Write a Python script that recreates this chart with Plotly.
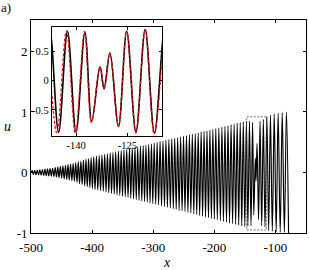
import plotly.graph_objects as go

# ---------------- data ----------------
# black curve: crest positions / heights
peak_x = [-498.2, -494.0, -489.8, -485.6, -481.4, -477.2, -473.0, -468.8, -464.6, -460.4,
          -456.2, -452.0, -447.8, -443.6, -439.4, -435.2, -431.0, -426.8, -422.6, -418.4,
          -414.2, -410.0, -405.8, -401.6,
          -397.4, -392.9, -388.4, -383.9, -379.4, -374.9, -370.4, -365.9, -361.4, -356.9,
          -352.4, -347.9, -343.4, -338.9, -334.4, -329.9, -325.4, -320.9, -316.4, -311.9,
          -307.4, -302.9,
          -298.4, -293.6, -288.8, -284.0, -279.2, -274.4, -269.6, -264.8, -260.0, -255.2,
          -250.4, -245.6, -240.8, -236.0, -231.2, -226.4, -221.6, -216.8, -212.0, -207.2,
          -202.4,
          -197.6, -192.6, -187.6, -182.6, -177.6, -172.6, -167.6, -162.6, -157.6, -152.6,
          -147.6,
          -142.5, -137.4, -133.0, -130.1, -125.2, -119.8, -114.0, -108.2, -102.0, -95.6,
          -88.9, -82.0]
peak_u = [0.03, 0.035, 0.04, 0.045, 0.05, 0.055, 0.06, 0.065, 0.07, 0.08,
          0.09, 0.10, 0.11, 0.12, 0.13, 0.14, 0.15, 0.165, 0.18, 0.19,
          0.205, 0.22, 0.23, 0.245,
          0.26, 0.27, 0.28, 0.29, 0.30, 0.31, 0.32, 0.33, 0.34, 0.35,
          0.36, 0.375, 0.385, 0.395, 0.405, 0.415, 0.425, 0.435, 0.445, 0.455,
          0.465, 0.475,
          0.485, 0.50, 0.51, 0.52, 0.535, 0.545, 0.555, 0.565, 0.575, 0.59,
          0.60, 0.61, 0.625, 0.635, 0.645, 0.655, 0.67, 0.68, 0.69, 0.70,
          0.715,
          0.725, 0.74, 0.75, 0.765, 0.775, 0.79, 0.80, 0.815, 0.825, 0.84,
          0.85,
          0.85, 0.83, 0.24, 0.48, 0.85, 0.88, 0.93, 0.95, 0.97, 0.98,
          0.99, 1.0]
# black curve: trough positions / depths
trough_x = [-500.0,
            -496.1, -491.9, -487.7, -483.5, -479.3, -475.1, -470.9, -466.7, -462.5, -458.3,
            -454.1, -449.9, -445.7, -441.5, -437.3, -433.1, -428.9, -424.7, -420.5, -416.3,
            -412.1, -407.9, -403.7, -399.5,
            -395.2, -390.7, -386.2, -381.7, -377.2, -372.7, -368.2, -363.7, -359.2, -354.7,
            -350.2, -345.7, -341.2, -336.7, -332.2, -327.7, -323.2, -318.7, -314.2, -309.7,
            -305.2, -300.7,
            -296.0, -291.2, -286.4, -281.6, -276.8, -272.0, -267.2, -262.4, -257.6, -252.8,
            -248.0, -243.2, -238.4, -233.6, -228.8, -224.0, -219.2, -214.4, -209.6, -204.8,
            -200.0,
            -195.1, -190.1, -185.1, -180.1, -175.1, -170.1, -165.1, -160.1, -155.1, -150.1,
            -145.1, -140.0, -135.4, -131.8, -127.6, -122.5, -117.1, -111.1, -105.1, -98.8,
            -92.2, -85.4, -78.5]
trough_u = [0.0,
            -0.03, -0.035, -0.04, -0.045, -0.05, -0.055, -0.058, -0.062, -0.068, -0.075,
            -0.085, -0.095, -0.105, -0.115, -0.125, -0.135, -0.145, -0.165, -0.185, -0.20,
            -0.22, -0.235, -0.25, -0.265,
            -0.28, -0.29, -0.30, -0.31, -0.32, -0.335, -0.345, -0.355, -0.37, -0.38,
            -0.39, -0.40, -0.41, -0.425, -0.435, -0.445, -0.46, -0.47, -0.48, -0.49,
            -0.505, -0.515,
            -0.525, -0.535, -0.55, -0.56, -0.575, -0.585, -0.60, -0.61, -0.625, -0.635,
            -0.645, -0.66, -0.67, -0.685, -0.695, -0.71, -0.72, -0.735, -0.745, -0.76,
            -0.77,
            -0.78, -0.795, -0.81, -0.82, -0.835, -0.845, -0.86, -0.87, -0.885, -0.895,
            -0.89, -0.88, -0.70, -0.14, -0.78, -0.88, -0.90, -0.96, -0.97, -0.98,
            -0.99, -0.99, -1.0]

# red dashed approximation (inset only)
red_x = [-148.3, -145.6, -142.8, -140.2, -137.5, -135.5, -133.0, -131.8, -130.1, -127.6,
         -125.2, -122.5, -119.8, -117.2, -114.3]
red_u = [0.86, -0.90, 0.86, -0.90, 0.85, -0.72, 0.24, -0.13, 0.47, -0.79,
         0.86, -0.90, 0.88, -0.92, 0.93]

main_xticks = [-500, -400, -300, -200, -100]
main_yticks = [-1, 0, 1, 2]
inset_xticks = [-140, -125]
inset_yticks = [-0.5, 0, 0.5]
inset_xrange = [-147.1, -114.8]
inset_yrange = [-0.95, 0.92]

# ---------------- build ----------------
pts = sorted(list(zip(peak_x, peak_u)) + list(zip(trough_x, trough_u)))
bx = [p[0] for p in pts]
bu = [p[1] for p in pts]

FONT = "Liberation Serif"

fig = go.Figure()
fig.add_trace(go.Scatter(x=bx, y=bu, mode="lines", line=dict(color="black", width=1.15, shape="spline"),
                         xaxis="x", yaxis="y", showlegend=False, hoverinfo="skip"))
fig.add_trace(go.Scatter(x=bx, y=bu, mode="lines", line=dict(color="black", width=1.6, shape="spline"),
                         xaxis="x2", yaxis="y2", showlegend=False, hoverinfo="skip"))
fig.add_trace(go.Scatter(x=red_x, y=red_u, mode="lines",
                         line=dict(color="#ee1111", width=1.3, dash="3px,2px", shape="spline"),
                         xaxis="x2", yaxis="y2", showlegend=False, hoverinfo="skip"))

axcommon = dict(showgrid=False, zeroline=False, showline=True, linecolor="black", linewidth=0.8,
                mirror="allticks", ticks="inside", ticklen=3, tickwidth=0.8, tickcolor="black")

fig.update_layout(
    width=309, height=270,
    margin=dict(l=31, r=3, t=20, b=37),
    paper_bgcolor="#ffffff", plot_bgcolor="#fffffe",
    font=dict(family=FONT, size=13, color="black"),
    xaxis=dict(range=[-500, -50], tickvals=main_xticks, ticktext=[str(v) for v in main_xticks],
               domain=[0, 1], anchor="y", ticklabelstandoff=2, **axcommon),
    yaxis=dict(range=[-1, 2.52], tickvals=main_yticks, ticktext=[str(v) for v in main_yticks],
               domain=[0, 1], anchor="x", **axcommon),
    xaxis2=dict(range=inset_xrange, tickvals=inset_xticks, ticktext=[str(v) for v in inset_xticks],
                domain=[0.0753, 0.4775], anchor="y2", tickfont=dict(size=10.5), **axcommon),
    yaxis2=dict(range=inset_yrange, tickvals=inset_yticks, ticktext=["-0.5", "0", "0.5"],
                domain=[0.4554, 0.9657], anchor="x2", tickfont=dict(size=10.5), **axcommon),
    shapes=[dict(type="rect", xref="x", yref="y", x0=inset_xrange[0], x1=inset_xrange[1],
                 y0=inset_yrange[0], y1=inset_yrange[1],
                 line=dict(color="#444444", width=0.8, dash="2px,1.5px"), layer="above")],
    annotations=[
        dict(text="<i>x</i>", xref="paper", yref="paper", x=0.4935, y=-0.138,
             showarrow=False, xanchor="center", yanchor="middle", font=dict(size=14)),
        dict(text="<i>u</i>", xref="paper", yref="paper", x=-0.087, y=0.5,
             showarrow=False, xanchor="center", yanchor="middle", font=dict(size=14)),
        dict(text="a)", xref="paper", yref="paper", x=-0.118, y=1.058,
             showarrow=False, xanchor="left", yanchor="middle", font=dict(size=13)),
    ],
)

fig.write_html("out.html", config={"displayModeBar": False},
               post_script="document.body.style.margin='0';document.body.style.padding='0';"
                           "document.body.style.overflow='hidden';")
